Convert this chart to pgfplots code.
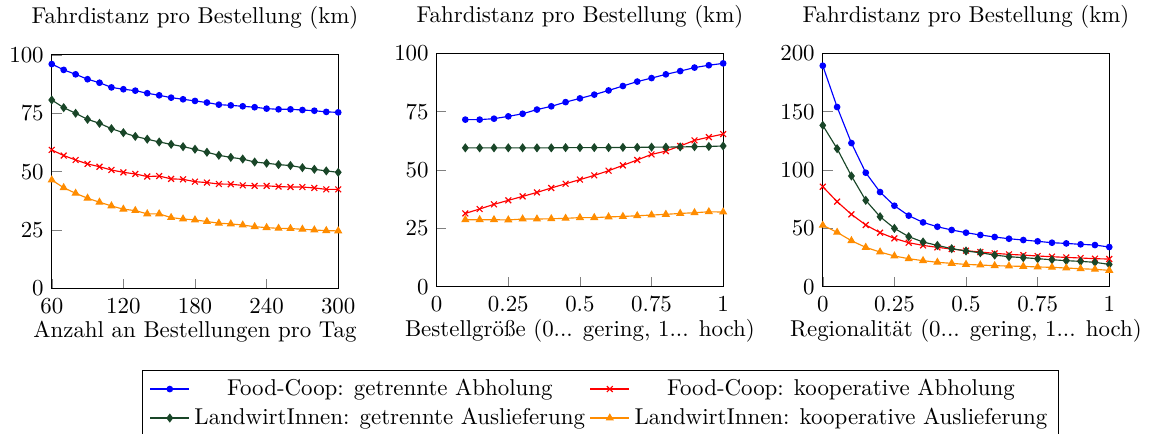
\documentclass[border=0pt]{standalone}
\usepackage{pgfplots}
\usepackage{pgfplotstable}
\pgfplotsset{compat=1.18}
\definecolor{dgreen}{RGB}{25,70,40}
\definecolor{myorange}{RGB}{255,140,0}

\pgfplotstableread{
x b g r o
60 96.1 80.7 59.3 46.4
70 93.6 77.4 56.9 43.1
80 91.7 75.0 55.0 40.7
90 89.6 72.4 53.3 38.6
100 88.1 70.7 52.1 36.9
110 86.1 68.4 50.7 35.3
120 85.3 66.7 49.7 33.9
130 84.7 65.1 49.0 33.3
140 83.6 63.9 47.9 31.9
150 82.7 62.7 48.1 31.9
160 81.7 61.7 46.9 30.3
170 81.0 60.7 46.7 29.7
180 80.3 59.6 45.7 29.3
190 79.6 58.3 45.3 28.6
200 78.7 57.0 44.7 27.9
210 78.4 56.1 44.6 27.6
220 78.0 55.4 44.1 27.1
230 77.6 54.1 43.9 26.4
240 77.0 53.6 43.9 26.0
250 76.7 53.0 43.6 25.7
260 76.7 52.6 43.4 25.6
270 76.4 51.7 43.4 25.3
280 76.1 51.0 43.0 25.0
290 75.6 50.3 42.4 24.7
300 75.4 49.7 42.4 24.6
}\tabA

\pgfplotstableread{
x b g r o
0.10 71.6 59.5 31.4 28.7
0.15 71.6 59.5 33.3 28.7
0.20 72.0 59.5 35.3 28.7
0.25 73.0 59.5 37.0 28.6
0.30 74.1 59.5 38.7 29.0
0.35 75.9 59.5 40.4 29.0
0.40 77.3 59.5 42.3 29.1
0.45 79.1 59.6 44.1 29.3
0.50 80.7 59.6 45.9 29.6
0.55 82.3 59.6 47.7 29.6
0.60 84.1 59.6 49.7 29.9
0.65 86.0 59.7 52.0 30.1
0.70 87.9 59.7 54.3 30.4
0.75 89.4 59.8 56.7 30.7
0.80 91.0 59.8 58.1 31.0
0.85 92.4 59.9 60.3 31.4
0.90 93.9 60.0 62.7 31.7
0.95 94.9 60.1 64.1 32.1
1.00 95.7 60.3 65.4 32.0
}\tabB

\pgfplotstableread{
x b g r o
0.00 189.4 138.3 85.7 52.6
0.05 154.0 118.3 72.9 46.6
0.10 123.1 94.9 62.0 39.4
0.15 97.7 74.0 52.9 33.7
0.20 81.1 60.0 46.3 29.7
0.25 69.4 50.0 41.4 26.3
0.30 60.9 42.9 37.7 24.0
0.35 55.1 38.3 35.4 22.3
0.40 51.4 35.4 33.7 20.9
0.45 48.6 32.6 32.3 20.0
0.50 46.3 30.6 30.9 19.1
0.55 44.3 29.1 29.7 18.6
0.60 42.6 27.1 28.6 18.0
0.65 41.1 25.7 27.7 17.7
0.70 40.0 24.9 27.1 17.4
0.75 38.9 24.0 26.3 16.9
0.80 37.7 23.1 25.7 16.6
0.85 37.1 22.3 25.1 16.0
0.90 36.3 21.7 24.6 15.4
0.95 35.7 20.9 24.0 14.9
1.00 34.0 19.1 23.7 14.0
}\tabC

\pgfplotsset{
  panel/.style={
    scale only axis, width=125.1pt, height=101.9pt,
    anchor=south west, tick pos=left, ymin=0,
    title={Fahrdistanz pro Bestellung (km)},
    title style={yshift=1.5pt},
    xticklabel style={yshift=-1pt},
    xlabel style={yshift=3.5pt},
    every axis plot/.append style={line width=0.5pt},
  },
  sB/.style={blue, mark=*, mark size=1.2pt},
  sR/.style={red, mark=x, mark size=1.8pt},
  sG/.style={dgreen, mark=diamond*, mark size=1.6pt},
  sO/.style={myorange, mark=triangle*, mark size=1.6pt},
}

\begin{document}
\begin{tikzpicture}
\useasboundingbox (0,0) rectangle (502.2pt,189.5pt);
\begin{axis}[panel, at={(22.6pt,63.6pt)},
  xmin=60, xmax=300, ymax=100,
  xtick={60,120,180,240,300}, ytick={0,25,50,75,100},
  xlabel={Anzahl an Bestellungen pro Tag}]
\addplot[sB] table[x=x,y=b]{\tabA};
\addplot[sR] table[x=x,y=r]{\tabA};
\addplot[sG] table[x=x,y=g]{\tabA};
\addplot[sO] table[x=x,y=o]{\tabA};
\end{axis}
\begin{axis}[panel, at={(190.7pt,64.3pt)},
  xmin=0, xmax=1, ymax=100,
  xtick={0,0.25,0.5,0.75,1}, ytick={0,25,50,75,100},
  xlabel={Bestellgröße (0... gering, 1... hoch)},
  legend columns=2, legend cell align=center,
  legend style={at={(0.573,-0.355)}, anchor=north, font=\normalsize}]
\addplot[sB] table[x=x,y=b]{\tabB};
\addlegendentry{Food-Coop: getrennte Abholung}
\addplot[sR] table[x=x,y=r]{\tabB};
\addlegendentry{Food-Coop: kooperative Abholung}
\addplot[sG] table[x=x,y=g]{\tabB};
\addlegendentry{LandwirtInnen: getrennte Auslieferung}
\addplot[sO] table[x=x,y=o]{\tabB};
\addlegendentry{LandwirtInnen: kooperative Auslieferung}
\end{axis}
\begin{axis}[panel, at={(359.3pt,64.3pt)},
  xmin=0, xmax=1, ymax=200,
  xtick={0,0.25,0.5,0.75,1}, ytick={0,50,100,150,200},
  xlabel={Regionalität (0... gering, 1... hoch)}]
\addplot[sB] table[x=x,y=b]{\tabC};
\addplot[sR] table[x=x,y=r]{\tabC};
\addplot[sG] table[x=x,y=g]{\tabC};
\addplot[sO] table[x=x,y=o]{\tabC};
\end{axis}
\end{tikzpicture}
\end{document}
